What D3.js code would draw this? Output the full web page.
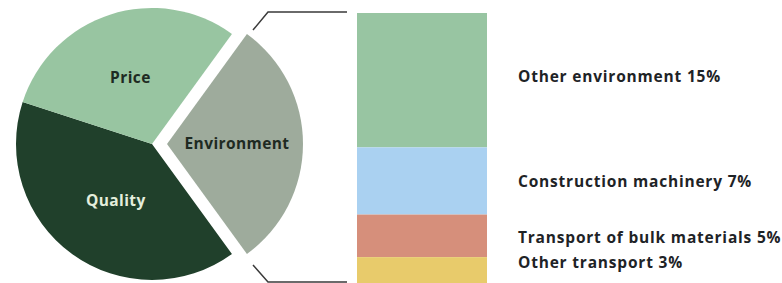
<!DOCTYPE html>
<html>
<head>
<meta charset="utf-8">
<script src="https://cdn.jsdelivr.net/npm/d3@7"></script>
<style>
  html, body { margin: 0; padding: 0; background: #fff; }
  svg text { font-family: 'Open Sans', 'Noto Sans', sans-serif; font-weight: 700; }
</style>
</head>
<body>
<div class="chart"></div>
<script>
// pie slices, clockwise from the exploded one
const slices = ['Environment', 'Quality', 'Price']
const sliceShares = [30, 40, 30]
const sliceColors = ['#9eab9c', '#20402b', '#98c5a1']
const sliceText = ['#1e2a22', '#e4eedc', '#1e2a22']

// breakdown of environment, top to bottom
const parts = ['Other environment', 'Construction machinery', 'Transport of bulk materials', 'Other transport']
const partShares = [15, 7.5, 4.75, 3]
const partLabels = ['15%', '7%', '5%', '3%']   // printed figures
const partColors = ['#98c5a2', '#aad1f1', '#d68f7b', '#e8cb6b']
const partLabelY = [77, 182, 238, 263]

const width = 782, height = 283
const cx = 152, cy = 144, r = 136, explode = 15

const svg = d3.select('.chart')
    .append('svg')
    .attr('width', width)
    .attr('height', height)

const pie = d3.pie()
    .sort(null)
    .value(d => d.v)
    .startAngle(36 * Math.PI / 180)
    .endAngle(396 * Math.PI / 180)

const arcs = pie(slices.map((k, i) => ({ k, v: sliceShares[i], i })))
const arc = d3.arc().innerRadius(0).outerRadius(r)
const labelArc = d3.arc().innerRadius(70).outerRadius(70)

const offset = d => {
    if (d.data.k !== 'Environment') return [0, 0]
    const a = (d.startAngle + d.endAngle) / 2
    return [Math.sin(a) * explode, -Math.cos(a) * explode]
}

const g = svg.append('g').attr('transform', `translate(${cx},${cy})`)

const slice = g.selectAll('g.slice')
    .data(arcs)
    .enter()
    .append('g')
    .attr('class', 'slice')
    .attr('transform', d => `translate(${offset(d)})`)

slice.append('path')
    .attr('d', arc)
    .style('fill', d => sliceColors[d.data.i])

slice.append('text')
    .attr('transform', d => {
        const [lx, ly] = labelArc.centroid(d)
        // quality label sits a little right of its centroid
        return `translate(${d.data.k === 'Quality' ? lx + 5 : lx},${ly})`
    })
    .attr('text-anchor', 'middle')
    .attr('dy', '0.35em')
    .style('font-size', '15.5px')
    .style('letter-spacing', '0.4px')
    .style('fill', d => sliceText[d.data.i])
    .text(d => d.data.k)

// stacked bar
const total = d3.sum(partShares)
const y = d3.scaleLinear().domain([0, total]).range([13, 284])
const x = d3.scaleLinear().domain([0, 1]).range([357, 487])
const starts = d3.cumsum([0].concat(partShares)).slice(0, -1)

svg.append('g')
    .selectAll('rect')
    .data(parts.map((k, i) => ({ k, v: partShares[i], s: starts[i], i })))
    .enter()
    .append('rect')
    .attr('x', x(0))
    .attr('width', x(1) - x(0))
    .attr('y', d => y(d.s))
    .attr('height', d => y(d.s + d.v) - y(d.s))
    .style('fill', d => partColors[d.i])

svg.append('g')
    .selectAll('text')
    .data(parts)
    .enter()
    .append('text')
    .attr('x', 518)
    .attr('y', (d, i) => partLabelY[i])
    .attr('dy', '0.35em')
    .style('font-size', '15.5px')
    .style('letter-spacing', '0.8px')
    .style('fill', '#1e2326')
    .text((d, i) => `${d} ${partLabels[i]}`)

// bracket joining the exploded slice to the bar
const line = d3.line()
svg.append('path')
    .attr('d', line([[253, 30], [268, 12], [347, 12]]))
    .style('fill', 'none')
    .style('stroke', '#3a3a3a')
    .style('stroke-width', 1.5)
svg.append('path')
    .attr('d', line([[253, 265], [268, 282], [347, 282]]))
    .style('fill', 'none')
    .style('stroke', '#3a3a3a')
    .style('stroke-width', 1.5)
</script>
</body>
</html>
